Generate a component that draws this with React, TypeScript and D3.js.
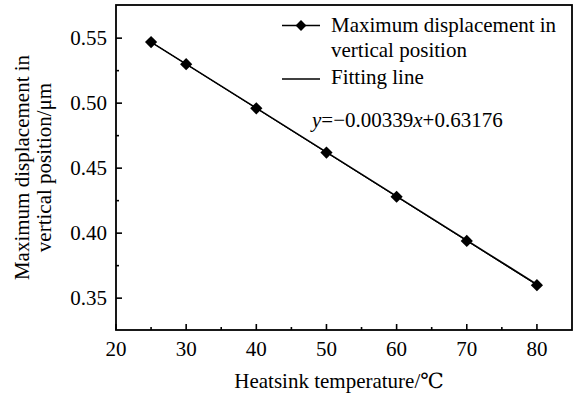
import React from "react";
import * as d3 from "d3";

const temperatures = [25, 30, 40, 50, 60, 70, 80];
const displacements = [0.547, 0.530, 0.496, 0.462, 0.428, 0.394, 0.360];
const fitSlope = -0.00339;
const fitIntercept = 0.63176;
const xTicks = [20, 30, 40, 50, 60, 70, 80];
const xMinorTicks = [25, 35, 45, 55, 65, 75];
const yTicks = [0.35, 0.4, 0.45, 0.5, 0.55];
const yMinorTicks = [0.375, 0.425, 0.475, 0.525];
const legendLabels = ["Maximum displacement in", "vertical position", "Fitting line"];
const yTitleLines = ["Maximum displacement in", "vertical position/μm"];
const xTitle = "Heatsink temperature/℃";

const W = 583;
const H = 395;
const L = 116, T = 5, R = 572, B = 330;
const FONT = "Liberation Serif, Times New Roman, DejaVu Serif, serif";

export default function App() {
  const x = d3.scaleLinear().domain([20, 85]).range([L, R]);
  const y = d3.scaleLinear().domain([0.3255, 0.5755]).range([B, T]);
  const sym = d3.symbol().type(d3.symbolDiamond2).size(95);
  const symSmall = d3.symbol().type(d3.symbolDiamond2).size(75);
  const fitLine = d3.line<number>().x((t) => x(t)).y((t) => y(fitSlope * t + fitIntercept));
  const dataLine = d3.line<number>().x((t) => x(t)).y((_, i) => y(displacements[i]));
  const fs = 21;
  return (
    <svg width={W} height={H} style={{ position: "absolute", left: 0, top: 0, background: "#fff", fontFamily: FONT }}>
      <rect x={0} y={0} width={W} height={H} fill="#fff" />
      {/* fitting line */}
      <path d={fitLine([25, 80]) || ""} fill="none" stroke="#000" strokeWidth={1.5} />
      <path d={dataLine(temperatures) || ""} fill="none" stroke="#000" strokeWidth={1} />
      {temperatures.map((t, i) => (
        <path key={i} d={sym() || ""} transform={`translate(${x(t)},${y(displacements[i])})`} fill="#000" />
      ))}
      {/* ticks */}
      {xTicks.map((t) => (
        <g key={"xt" + t}>
          <line x1={x(t)} x2={x(t)} y1={B} y2={B - 6} stroke="#000" strokeWidth={1.6} />
          <text x={x(t)} y={356} textAnchor="middle" fontSize={fs}>{t}</text>
        </g>
      ))}
      {xMinorTicks.map((t) => (
        <line key={"xm" + t} x1={x(t)} x2={x(t)} y1={B} y2={B - 3} stroke="#000" strokeWidth={1.6} />
      ))}
      {yTicks.map((t) => (
        <g key={"yt" + t}>
          <line x1={L} x2={L + 6} y1={y(t)} y2={y(t)} stroke="#000" strokeWidth={1.6} />
          <text x={107} y={y(t) + 7} textAnchor="end" fontSize={fs}>{t.toFixed(2)}</text>
        </g>
      ))}
      {yMinorTicks.map((t) => (
        <line key={"ym" + t} x1={L} x2={L + 3} y1={y(t)} y2={y(t)} stroke="#000" strokeWidth={1.6} />
      ))}
      {/* frame */}
      <rect x={L} y={T} width={R - L} height={B - T} fill="none" stroke="#000" strokeWidth={1.8} />
      {/* legend */}
      <line x1={282} x2={320} y1={25.5} y2={25.5} stroke="#000" strokeWidth={1.5} />
      <path d={symSmall() || ""} transform="translate(301,25.5)" fill="#000" />
      <text x={331} y={31.5} fontSize={fs}>{legendLabels[0]}</text>
      <text x={331} y={56.5} fontSize={fs}>{legendLabels[1]}</text>
      <line x1={282} x2={320} y1={79} y2={79} stroke="#000" strokeWidth={1.5} />
      <text x={331} y={84} fontSize={fs}>{legendLabels[2]}</text>
      {/* equation */}
      <text x={312} y={127} fontSize={fs}>
        <tspan fontStyle="italic">y</tspan>=−0.00339<tspan fontStyle="italic">x</tspan>+0.63176
      </text>
      {/* axis titles */}
      <text x={339} y={388} textAnchor="middle" fontSize={fs}>{xTitle}</text>
      <g transform={`translate(29,${(T + B) / 2})`}>
        <text transform="rotate(-90)" textAnchor="middle" fontSize={fs}>{yTitleLines[0]}</text>
      </g>
      <g transform={`translate(51,${(T + B) / 2})`}>
        <text transform="rotate(-90)" textAnchor="middle" fontSize={fs}>{yTitleLines[1]}</text>
      </g>
    </svg>
  );
}
